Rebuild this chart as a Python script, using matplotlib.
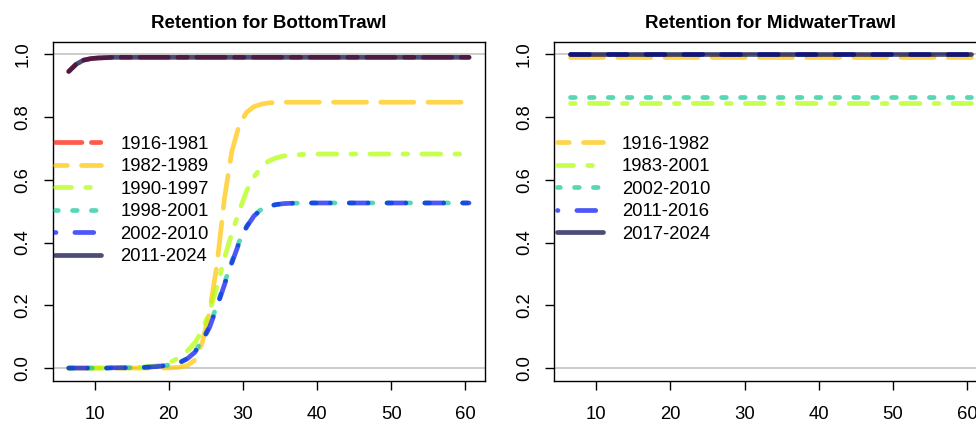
import matplotlib
matplotlib.use("Agg")
import matplotlib.pyplot as plt
from matplotlib.lines import Line2D

plt.rcParams["font.family"] = ["Liberation Sans", "DejaVu Sans"]

# --- BottomTrawl retention by time block ---
bt_len = [6.5, 7.5, 8.5, 9.5, 10.5, 11.5, 12.5, 14.5, 16.5, 18.5, 19.5, 20.5,
          21.5, 22.5, 23.5, 24.5, 25.5, 26.5, 27.5, 28.5, 29.5, 30.5, 31.5,
          32.5, 33.5, 34.5, 35.5, 36.5, 38.5, 40.5, 45.5, 50.5, 55.5, 60.5]
bt_1916_1981 = [0.945, 0.968, 0.981, 0.986, 0.988, 0.989, 0.99, 0.99, 0.99, 0.99, 0.99, 0.99,
                0.99, 0.99, 0.99, 0.99, 0.99, 0.99, 0.99, 0.99, 0.99, 0.99, 0.99,
                0.99, 0.99, 0.99, 0.99, 0.99, 0.99, 0.99, 0.99, 0.99, 0.99, 0.99]
bt_1982_1989 = [0.0, 0.0, 0.0, 0.0, 0.0, 0.0, 0.0, 0.0, 0.0, 0.0, 0.0, 0.001,
                0.003, 0.008, 0.025, 0.08, 0.18, 0.33, 0.54, 0.69, 0.775, 0.815, 0.833,
                0.841, 0.845, 0.846, 0.847, 0.847, 0.847, 0.847, 0.847, 0.847, 0.847, 0.847]
bt_1990_1997 = [0.0, 0.0, 0.0, 0.0, 0.0, 0.0, 0.001, 0.001, 0.003, 0.008, 0.013, 0.022,
                0.035, 0.055, 0.08, 0.12, 0.18, 0.26, 0.35, 0.43, 0.50, 0.565, 0.61,
                0.64, 0.66, 0.67, 0.676, 0.679, 0.681, 0.682, 0.682, 0.682, 0.682, 0.682]
bt_1998_2001 = [0.0, 0.0, 0.0, 0.0, 0.0, 0.0, 0.001, 0.001, 0.002, 0.005, 0.008, 0.012,
                0.018, 0.03, 0.052, 0.088, 0.135, 0.2, 0.27, 0.34, 0.403, 0.452, 0.487,
                0.506, 0.516, 0.521, 0.524, 0.525, 0.526, 0.526, 0.526, 0.526, 0.526, 0.526]
bt_2002_2010 = [0.0, 0.0, 0.0, 0.0, 0.0, 0.0, 0.001, 0.001, 0.002, 0.005, 0.008, 0.012,
                0.018, 0.03, 0.05, 0.085, 0.13, 0.195, 0.265, 0.335, 0.40, 0.45, 0.485,
                0.505, 0.516, 0.521, 0.524, 0.525, 0.526, 0.526, 0.526, 0.526, 0.526, 0.526]
bt_2011_2024 = bt_1916_1981
bt_labels = ["1916-1981", "1982-1989", "1990-1997", "1998-2001", "2002-2010", "2011-2024"]

# --- MidwaterTrawl retention by time block (flat) ---
mw_len = [6.5, 60.5]
mw_1916_1982 = [0.99, 0.99]
mw_1983_2001 = [0.843, 0.843]
mw_2002_2010 = [0.864, 0.864]
mw_2011_2016 = [1.0, 1.0]
mw_2017_2024 = [1.0, 1.0]
mw_labels = ["1916-1982", "1983-2001", "2002-2010", "2011-2016", "2017-2024"]

# R-like colours (alpha 0.7) and line types, one per block
RED, YEL, GRN, TEA, BLU, NAV = "#FF1400", "#FFC400", "#AEFF00", "#10C896", "#0010F5", "#000040"
TWODASH = (2, 2, 6, 2)
LONGDASH = (7, 3)
DOTDASH = (1, 3, 4, 3)
DOTTED = (1, 3)
DASHED = (4, 4)
LW = 3.4
ALPHA = 0.7
FS = 13.3


def style(dashes, offset=0):
    if dashes is None:
        return "-"
    return (offset, dashes)


def draw_panel(ax, lengths, series, labels, colors, dashes, leg_offsets, title):
    ax.axhline(0, color="#BEBEBE", lw=1.1, zorder=1)
    ax.axhline(1, color="#BEBEBE", lw=1.1, zorder=1)
    handles = []
    for vals, lab, col, ds, off in zip(series, labels, colors, dashes, leg_offsets):
        ax.plot(lengths, vals, color=col, alpha=ALPHA, lw=LW, linestyle=style(ds),
                dash_capstyle="round", solid_capstyle="round", zorder=2)
        handles.append(Line2D([], [], color=col, alpha=ALPHA, lw=LW,
                              linestyle=style(ds, off),
                              dash_capstyle="round", solid_capstyle="round"))
    ax.set_xlim(4.34, 62.66)
    ax.set_ylim(-0.04, 1.04)
    ax.set_xticks([10, 20, 30, 40, 50, 60])
    ax.set_yticks([0.0, 0.2, 0.4, 0.6, 0.8, 1.0])
    ax.set_yticklabels(["0.0", "0.2", "0.4", "0.6", "0.8", "1.0"])
    ax.tick_params(direction="out", length=6.5, width=1, labelsize=FS)
    ax.tick_params(axis="x", pad=11.5)
    ax.tick_params(axis="y", pad=9)
    for lab in ax.get_yticklabels():
        lab.set_rotation(90)
        lab.set_va("center")
    for sp in ax.spines.values():
        sp.set_linewidth(1)
    ax.set_title(title, fontsize=13.5, fontweight="bold", pad=10)
    ax.legend(handles, labels, loc="upper left", bbox_to_anchor=(0.006, 0.723),
              frameon=False, fontsize=FS, borderpad=0, borderaxespad=0,
              handlelength=2.49, handletextpad=1.03, labelspacing=0.3)


fig = plt.figure(figsize=(9.76, 4.28), dpi=100)
ax1 = fig.add_axes([0.054, 0.1107, 0.443, 0.792])
ax2 = fig.add_axes([0.568, 0.1107, 0.443, 0.792])

draw_panel(ax1, bt_len,
           [bt_1916_1981, bt_1982_1989, bt_1990_1997, bt_1998_2001, bt_2002_2010, bt_2011_2024],
           bt_labels, [RED, YEL, GRN, TEA, BLU, NAV],
           [TWODASH, LONGDASH, DOTDASH, DOTTED, DASHED, None],
           [4.4, 4.5, 4.6, 0.4, 3.9, 0],
           "Retention for BottomTrawl")
draw_panel(ax2, mw_len,
           [mw_1916_1982, mw_1983_2001, mw_2002_2010, mw_2011_2016, mw_2017_2024],
           mw_labels, [YEL, GRN, TEA, BLU, NAV],
           [LONGDASH, DOTDASH, DOTTED, DASHED, None],
           [4.5, 4.6, 0.4, 3.9, 0],
           "Retention for MidwaterTrawl")

fig.savefig("out.png", dpi=100)
